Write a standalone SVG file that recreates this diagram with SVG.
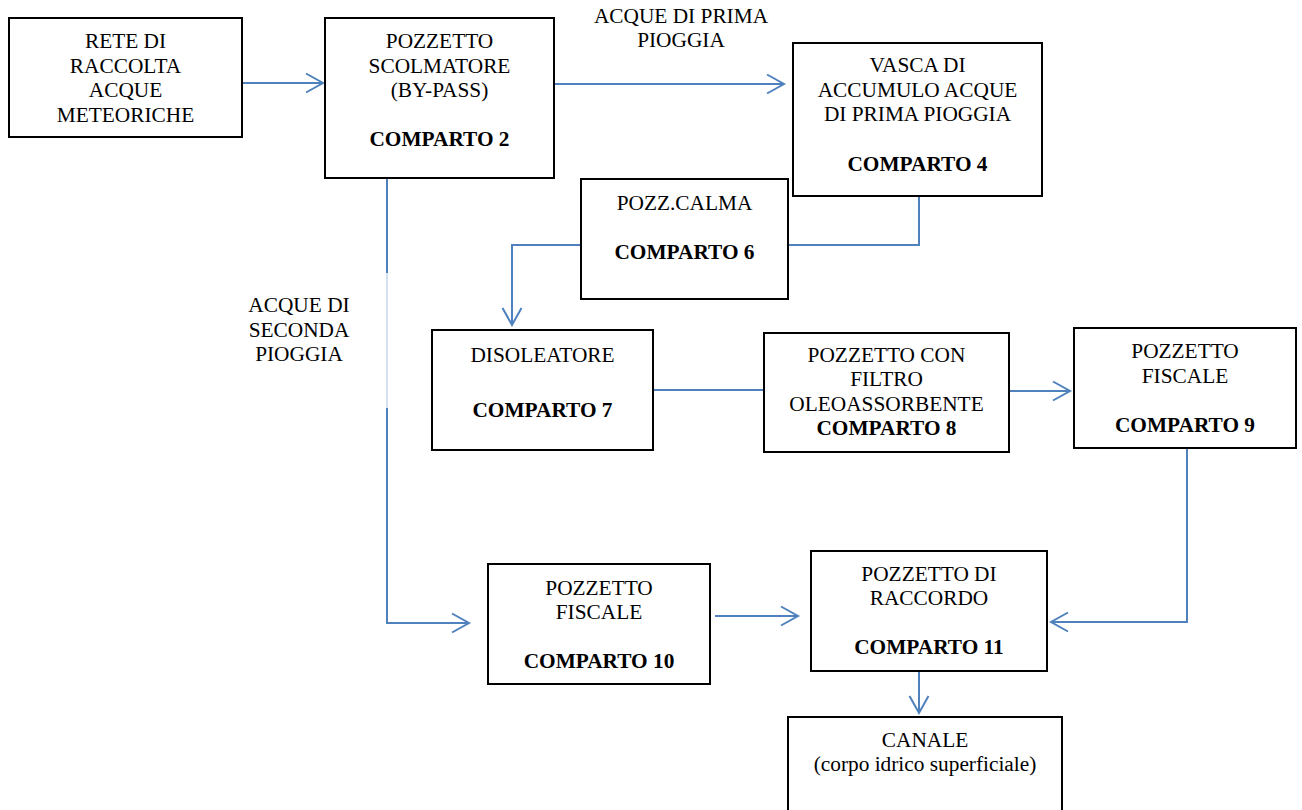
<svg xmlns="http://www.w3.org/2000/svg" width="1302" height="810" viewBox="0 0 1302 810">
  <style>
    .box { fill: #ffffff; stroke: #000000; stroke-width: 2; }
    .t { font-family: "Liberation Serif", "Times New Roman", serif; font-size: 21.33px; fill: #000000; text-anchor: middle; }
    .b { font-weight: bold; }
    .flow { fill: none; stroke: #4F81BD; stroke-width: 2; }
    .faint { fill: none; stroke: #A9C3E6; stroke-width: 1; }
  </style>
  <defs>
    <marker id="open-arrow" markerUnits="userSpaceOnUse" markerWidth="22" markerHeight="24" refX="19" refY="12" orient="auto">
      <path d="M2,2.5 L19,12 L2,21.5" fill="none" stroke="#4F81BD" stroke-width="2"/>
    </marker>
  </defs>

  <rect width="1302" height="810" fill="#ffffff"/>

  <!-- connectors -->
  <g id="connectors">
    <line class="flow" x1="242" y1="83" x2="323" y2="83" marker-end="url(#open-arrow)"/>
    <line class="flow" x1="554" y1="84" x2="784" y2="84" marker-end="url(#open-arrow)"/>
    <polyline class="flow" points="919,196 919,245 788,245"/>
    <polyline class="flow" points="581,245 512,245 512,325" marker-end="url(#open-arrow)"/>
    <line class="flow" x1="653" y1="390" x2="764" y2="390"/>
    <line class="flow" x1="1009" y1="391" x2="1070" y2="391" marker-end="url(#open-arrow)"/>
    <polyline class="flow" points="1187,448 1187,622 1051,622" marker-end="url(#open-arrow)"/>
    <line class="flow" x1="387" y1="178" x2="387" y2="273"/>
    <line class="faint" x1="387" y1="273" x2="387" y2="408"/>
    <polyline class="flow" points="387,408 387,623 469,623" marker-end="url(#open-arrow)"/>
    <line class="flow" x1="715" y1="616" x2="798" y2="616" marker-end="url(#open-arrow)"/>
    <line class="flow" x1="919" y1="671" x2="919" y2="713" marker-end="url(#open-arrow)"/>
  </g>

  <!-- flow labels -->
  <g id="label-prima">
    <text class="t" x="681" y="23">ACQUE DI PRIMA</text>
    <text class="t" x="681" y="47">PIOGGIA</text>
  </g>
  <g id="label-seconda">
    <text class="t" x="299" y="312">ACQUE DI</text>
    <text class="t" x="299" y="337">SECONDA</text>
    <text class="t" x="299" y="361">PIOGGIA</text>
  </g>

  <!-- nodes -->
  <g id="rete">
    <rect class="box" x="9" y="18" width="233" height="119"/>
    <text class="t" x="125.5" y="48">RETE DI</text>
    <text class="t" x="125.5" y="73">RACCOLTA</text>
    <text class="t" x="125.5" y="97">ACQUE</text>
    <text class="t" x="125.5" y="122">METEORICHE</text>
  </g>
  <g id="comparto2">
    <rect class="box" x="325" y="18" width="229" height="160"/>
    <text class="t" x="439.5" y="48">POZZETTO</text>
    <text class="t" x="439.5" y="73">SCOLMATORE</text>
    <text class="t" x="439.5" y="97">(BY-PASS)</text>
    <text class="t b" x="439.5" y="146">COMPARTO 2</text>
  </g>
  <g id="comparto4">
    <rect class="box" x="793" y="43" width="249" height="153"/>
    <text class="t" x="917.5" y="72">VASCA DI</text>
    <text class="t" x="917.5" y="97">ACCUMULO ACQUE</text>
    <text class="t" x="917.5" y="121">DI PRIMA PIOGGIA</text>
    <text class="t b" x="917.5" y="171">COMPARTO 4</text>
  </g>
  <g id="comparto6">
    <rect class="box" x="581" y="179" width="207" height="120"/>
    <text class="t" x="684.5" y="210">POZZ.CALMA</text>
    <text class="t b" x="684.5" y="259">COMPARTO 6</text>
  </g>
  <g id="comparto7">
    <rect class="box" x="432" y="330" width="221" height="120"/>
    <text class="t" x="542.5" y="362">DISOLEATORE</text>
    <text class="t b" x="542.5" y="417">COMPARTO 7</text>
  </g>
  <g id="comparto8">
    <rect class="box" x="764" y="333" width="245" height="119"/>
    <text class="t" x="886.5" y="362">POZZETTO CON</text>
    <text class="t" x="886.5" y="386">FILTRO</text>
    <text class="t" x="886.5" y="411">OLEOASSORBENTE</text>
    <text class="t b" x="886.5" y="435">COMPARTO 8</text>
  </g>
  <g id="comparto9">
    <rect class="box" x="1074" y="328" width="222" height="120"/>
    <text class="t" x="1185" y="358">POZZETTO</text>
    <text class="t" x="1185" y="383">FISCALE</text>
    <text class="t b" x="1185" y="432">COMPARTO 9</text>
  </g>
  <g id="comparto10">
    <rect class="box" x="488" y="564" width="222" height="120"/>
    <text class="t" x="599" y="595">POZZETTO</text>
    <text class="t" x="599" y="619">FISCALE</text>
    <text class="t b" x="599" y="668">COMPARTO 10</text>
  </g>
  <g id="comparto11">
    <rect class="box" x="811" y="551" width="236" height="120"/>
    <text class="t" x="929" y="581">POZZETTO DI</text>
    <text class="t" x="929" y="605">RACCORDO</text>
    <text class="t b" x="929" y="654">COMPARTO 11</text>
  </g>
  <g id="canale">
    <rect class="box" x="788" y="717" width="274" height="110"/>
    <text class="t" x="925" y="747">CANALE</text>
    <text class="t" x="925" y="771">(corpo idrico superficiale)</text>
  </g>
</svg>
